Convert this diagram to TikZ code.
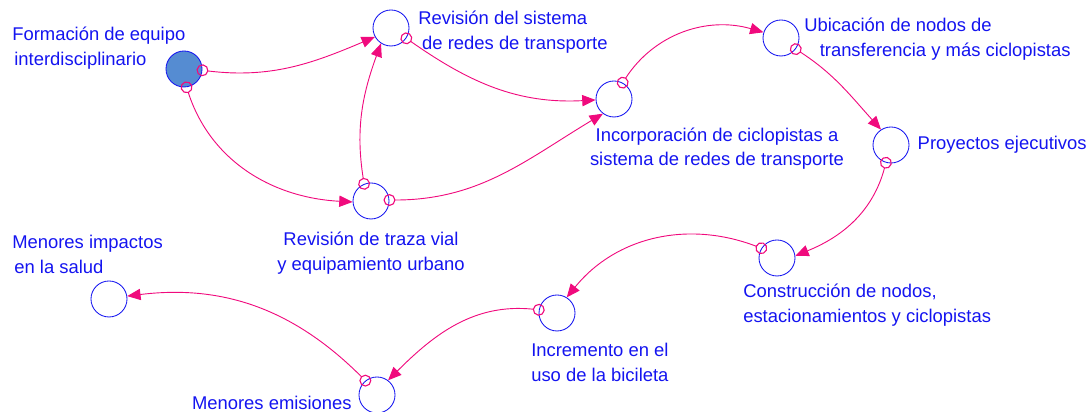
\documentclass[tikz,border=0pt]{standalone}
\usepackage{fontspec}
\setmainfont{Liberation Sans}
\usetikzlibrary{arrows.meta, positioning}
\definecolor{linkpink}{RGB}{240, 10, 125}
\definecolor{varblue}{RGB}{20, 20, 240}
\definecolor{seedfill}{RGB}{85, 140, 210}

\begin{document}
\begin{tikzpicture}[x=0.025cm, y=0.025cm,
  var/.style={circle, draw=varblue, line width=0.6pt, minimum size=0.9cm, inner sep=0pt},
  lbl/.style={text=varblue, font=\fontsize{13.1}{17.5}\selectfont, inner sep=0pt, align=left},
  link/.style={draw=linkpink, line width=0.65pt,
    {Circle[open, length=8.5pt, width=8.5pt, line width=0.8pt]}-{Triangle[length=9.5pt, width=8pt]},
    shorten <=-4.2pt}]
  \useasboundingbox (0,0) rectangle (1092,412);

  % variables
  \node[var, fill=seedfill] (equipo) at (184,343) {};
  \node[var] (sis) at (391,384) {};
  \node[var] (traza) at (371,211) {};
  \node[var] (inc) at (614,313) {};
  \node[var] (ubi) at (781,374) {};
  \node[var] (proy) at (891,267) {};
  \node[var] (cons) at (777,154) {};
  \node[var] (incr) at (557,99) {};
  \node[var] (emis) at (377,17) {};
  \node[var] (imp) at (109,113) {};

  % labels
  \node[lbl, anchor=west] (equipoL) at (12,364) {Formación de equipo\\\hspace*{1.5pt}interdisciplinario};
  \node[lbl, anchor=west] (sisL) at (418,380) {Revisión del sistema\\\hspace*{2.8pt}de redes de transporte};
  \node[lbl, anchor=west] (ubiL) at (804,373) {Ubicación de nodos de\\\hspace*{11pt}transferencia y más ciclopistas};
  \node[lbl, align=center] (incL) at (717,263.5) {Incorporación de ciclopistas a\\sistema de redes de transporte};
  \node[lbl, right=5.7pt of proy] (proyL) {Proyectos ejecutivos};
  \node[lbl, align=center] (trazaL) at (371,159) {Revisión de traza vial\\y equipamiento urbano};
  \node[lbl, anchor=west] (impL) at (12,157.5) {Menores impactos\\\hspace*{1.5pt}en la salud};
  \node[lbl, anchor=west] (consL) at (743,107) {Construcción de nodos,\\estacionamientos y ciclopistas};
  \node[lbl, anchor=west] (incrL) at (531,49.5) {Incremento en el\\uso de la bicileta};
  \node[lbl, anchor=east] (emisL) at (352,9) {Menores emisiones};

  % links
  \draw[link] (equipo.-4) to[out=-7, in=203] (sis.-151);
  \draw[link] (equipo.-82) to[out=-72, in=177] (traza.183);
  \draw[link] (traza.112) to[out=99, in=250] (sis.-123);
  \draw[link] (traza.3) to[out=0, in=211] (inc.-127);
  \draw[link] (sis.-34) to[out=-35, in=183] (inc.183);
  \draw[link] (inc.62) to[out=57, in=164] (ubi.162);
  \draw[link] (ubi.-37) to[out=-33, in=132] (proy.123);
  \draw[link] (proy.-106) to[out=-105, in=22] (cons.7);
  \draw[link] (cons.148) to[out=159, in=51] (incr.58);
  \draw[link] (incr.170) to[out=174, in=45] (emis.53);
  \draw[link] (emis.129) to[out=135, in=7] (imp.9);
\end{tikzpicture}
\end{document}
